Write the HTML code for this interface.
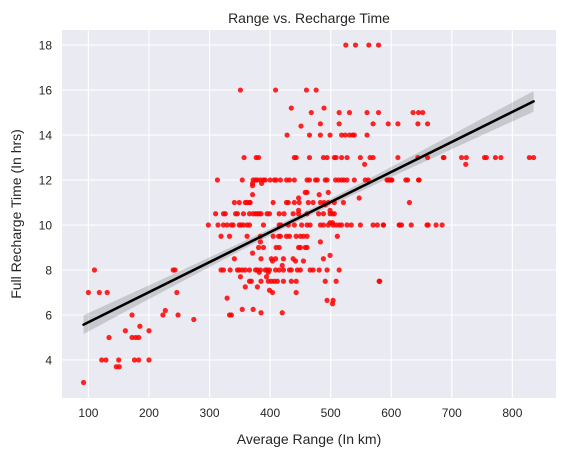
<!DOCTYPE html>
<html><head><meta charset="utf-8">
<style>
html,body{margin:0;padding:0;background:#fff;}
svg text{font-family:"Liberation Sans","DejaVu Sans",sans-serif;fill:#262626;}
</style></head>
<body>
<svg id="chart" width="566" height="457" viewBox="0 0 566 457">
  <rect x="62" y="30" width="494" height="368" fill="#eaeaf2"/>
  <g id="grid"></g>
  <g id="band"></g>
  <g id="pts"></g>
  <g id="line"></g>
  <g id="xticks"></g>
  <g id="yticks"></g>
  <text x="309" y="23" text-anchor="middle" font-size="14">Range vs. Recharge Time</text>
  <text x="309" y="444" text-anchor="middle" font-size="14">Average Range (In km)</text>
  <text x="21" y="214" text-anchor="middle" font-size="14" transform="rotate(-90 21 214)">Full Recharge Time (In hrs)</text>
</svg>
<script>
const xTicks=[100,200,300,400,500,600,700,800];
const yTicks=[4,6,8,10,12,14,16,18];
const ranges=[
92,100,110,118,131,134,122,129,146,151,150,161,172,172,178,183,185,176,183,200,200,223,227,240,243,246,248,274,
525,541,563,579,
351,409,460,476,
435,489,
468,514,531,560,579,
483,514,570,595,451,
428,465,483,499,518,524,531,536,539,560,
357,377,381,440,443,465,488,494,506,509,518,527,549,565,570,556,
313,354,372,376,379,384,389,392,400,407,410,417,427,432,440,461,465,475,478,491,494,508,513,518,522,527,539,557,562,595,600,
371,386,371,458,461,496,371,481,447,547,
341,349,359,362,366,367,405,427,430,440,448,463,471,483,489,496,506,521,491,447,499,
310,323,326,343,346,356,366,372,376,379,382,385,395,399,415,423,438,447,461,480,488,499,506,503,499,503,
298,314,323,329,336,339,349,352,356,362,366,389,415,418,430,440,452,461,466,483,488,496,504,509,514,518,527,534,549,570,577,587,613,
319,333,362,384,405,414,417,427,432,443,450,455,461,511,384,483,
381,389,410,415,447,450,458,461,371,499,
341,385,402,409,422,438,488,404,455,442,420,
319,323,334,346,349,354,359,366,376,379,384,392,395,399,409,415,422,432,435,445,450,466,471,481,494,514,382,397,351,394,
366,369,385,397,402,407,412,422,435,443,491,509,580,359,379,399,404,443,329,494,504,503,354,372,385,420,333,336,
611,644,660,686,716,724,754,757,772,781,828,835,723,636,645,652,611,644,660,
593,597,601,624,627,645,630,587,614,617,633,659,661,674,684,581,687,646
];
const times=[
3,7,8,7,7,5,4,4,3.7,3.7,4,5.3,6,5,5,5,5.5,4,4,5.3,4,6,6.2,8,8,7,6,5.8,
18,18,18,18,
16,16,16,16,
15.2,15.2,
15,15,15,15,15,
14.5,14.5,14.5,14.5,14.4,
14,14,14,14,14,14,14,14,14,14,
13,13,13,13,13,13,13,13,13,13,13,13,13,13,13,12.7,
12,12,12,12,12,12,12,12,12,12,12,12,12,12,12,12,12,12,12,12,12,12,12,12,12,12,12,12,12,12,12,
11.85,11.85,11.75,11.45,11.45,11.45,11.35,11.35,11.2,11.2,
11,11,11,11,11,11,11,11,11,11,11,11,11,11,11,11,11,11,10.9,10.65,10.65,
10.5,10.5,10.5,10.5,10.5,10.5,10.5,10.5,10.5,10.5,10.5,10.5,10.5,10.5,10.5,10.5,10.5,10.5,10.5,10.5,10.5,10.5,10.5,10.5,10.1,10.1,
10,10,10,10,10,10,10,10,10,10,10,10,10,10,10,10,10,10,10,10,10,10,10,10,10,10,10,10,10,10,10,10,10,
9.5,9.5,9.5,9.5,9.5,9.5,9.5,9.5,9.5,9.5,9.5,9.5,9.5,9.5,9.25,9.25,
9,9,9,9,9,9,9,9,8.75,8.65,
8.5,8.5,8.5,8.5,8.5,8.5,8.5,8.4,8.4,8.4,8.2,
8,8,8,8,8,8,8,8,8,8,8,8,8,8,8,8,8,8,8,8,8,8,8,8,8,8,7.9,7.9,7.7,7.7,
7.5,7.5,7.5,7.5,7.5,7.5,7.5,7.5,7.5,7.5,7.5,7.5,7.5,7.25,7.25,7.1,7,7,6.75,6.65,6.65,6.5,6.25,6.25,6.1,6.1,6,6,
13,13,13,13,13,13,13,13,13,13,13,13,12.7,15,15,15,14.5,14.5,14.5,
12,12,12,12,12,12,11,10,10,10,10,10,10,10,10,7.5,13,12
];
const X0=56.4,X1=872,PX0=62,PX1=556,Y0=2.31,Y1=18.67,PY0=398,PY1=30;
function sx(v){return PX0+(v-X0)/(X1-X0)*(PX1-PX0);}
function sy(v){return PY0+(v-Y0)/(Y1-Y0)*(PY1-PY0);}
const NS='http://www.w3.org/2000/svg';
function mk(tag,attrs,parent){const e=document.createElementNS(NS,tag);for(const k in attrs)e.setAttribute(k,attrs[k]);parent.appendChild(e);return e;}
const grid=document.getElementById('grid'),xt=document.getElementById('xticks'),yt=document.getElementById('yticks');
xTicks.forEach(t=>{
  const l=mk('line',{x1:sx(t),x2:sx(t),y1:PY1,y2:PY0,stroke:'#fff','stroke-width':1.1},grid);
  
  
  const tx=mk('text',{x:sx(t),y:417,'text-anchor':'middle','font-size':12},xt);
  tx.textContent=t;
  
  
});
yTicks.forEach(t=>{
  const l=mk('line',{x1:PX0,x2:PX1,y1:sy(t),y2:sy(t),stroke:'#fff','stroke-width':1.1},grid);
  
  
  const tx=mk('text',{x:52,y:sy(t)+4.5,'text-anchor':'end','font-size':12},yt);
  tx.textContent=t;
  
  
});
const pts=document.getElementById('pts');
const n=Math.min(ranges.length,times.length);
for(let i=0;i<n;i++){
  const c=mk('circle',{cx:sx(ranges[i]),cy:sy(times[i]),r:2.6,fill:'#ff0000','fill-opacity':0.85},pts);
  
  
}
let mx=0,my=0;for(let i=0;i<n;i++){mx+=ranges[i];my+=times[i];}mx/=n;my/=n;
let sxx=0,sxy=0;for(let i=0;i<n;i++){sxx+=(ranges[i]-mx)**2;sxy+=(ranges[i]-mx)*(times[i]-my);}
const b=sxy/sxx,a=my-b*mx;
let sse=0;for(let i=0;i<n;i++){sse+=(times[i]-a-b*ranges[i])**2;}
const s=Math.sqrt(sse/(n-2));
const xmin=Math.min(...ranges),xmax=Math.max(...ranges);
let up=[],lo=[];
for(let k=0;k<=50;k++){
  const x=xmin+(xmax-xmin)*k/50;const yh=a+b*x;
  const se=s*Math.sqrt(1/n+(x-mx)**2/sxx)*1.2;
  up.push(sx(x)+','+sy(yh+se));lo.unshift(sx(x)+','+sy(yh-se));
}
const band=mk('polygon',{points:up.concat(lo).join(' '),fill:'#000','fill-opacity':0.15},document.getElementById('band'));


const ln=mk('line',{x1:sx(xmin),y1:sy(a+b*xmin),x2:sx(xmax),y2:sy(a+b*xmax),stroke:'#000','stroke-width':2.6,'stroke-linecap':'round'},document.getElementById('line'));


</script>
</body></html>
